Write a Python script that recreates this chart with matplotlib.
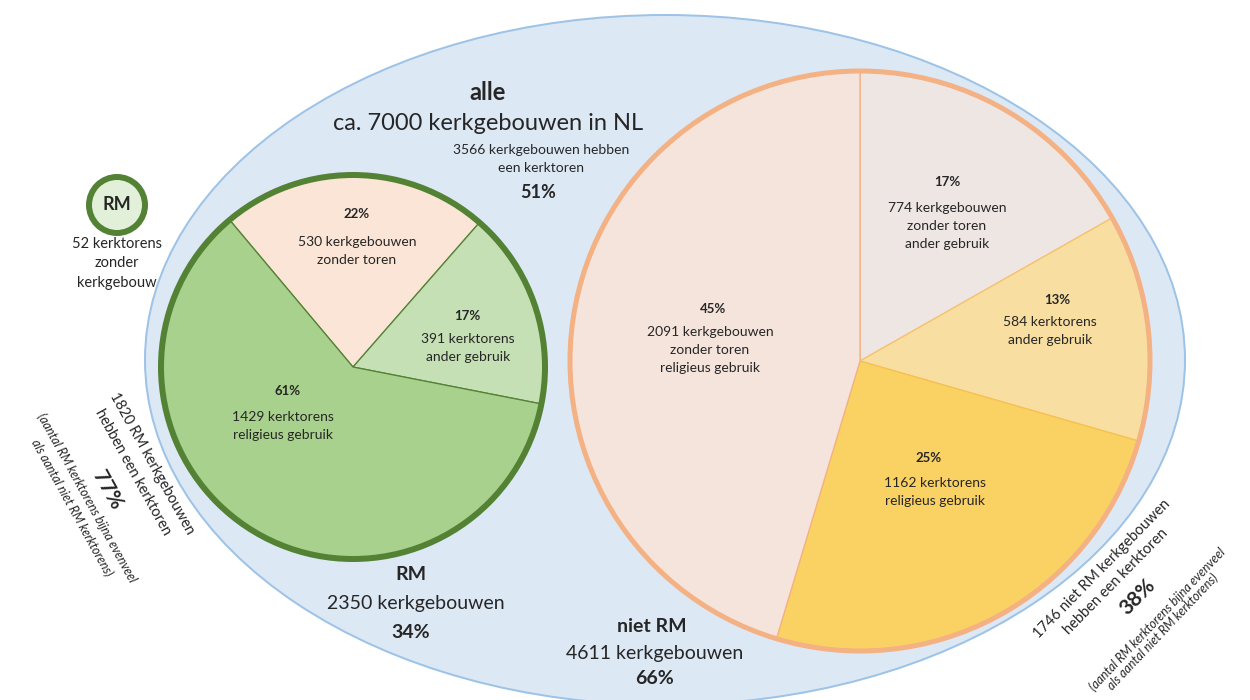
import matplotlib
matplotlib.use("Agg")
import matplotlib.pyplot as plt
from matplotlib.patches import Ellipse, Circle

plt.rcParams['font.family'] = ['Lato', 'DejaVu Sans']

# ---------------- data ----------------
rm_values = [530, 391, 1429]
rm_pcts = ["22%", "17%", "61%"]
rm_labels = ["530 kerkgebouwen\nzonder toren", "391 kerktorens\nander gebruik",
             "1429 kerktorens\nreligieus gebruik"]
rm_colors = ["#fbe5d6", "#c5e0b4", "#a9d18e"]

niet_values = [774, 584, 1162, 2091]
niet_pcts = ["17%", "13%", "25%", "45%"]
niet_labels = ["774 kerkgebouwen\nzonder toren\nander gebruik",
               "584 kerktorens\nander gebruik",
               "1162 kerktorens\nreligieus gebruik",
               "2091 kerkgebouwen\nzonder toren\nreligieus gebruik"]
niet_colors = ["#ede6e3", "#f8dfa1", "#fad264", "#f5e4dc"]
niet_edges = ["#f4b183", "#f7c46a", "#f7c04f", "#f4b183"]

total_title = "alle"
total_sub = "ca. 7000 kerkgebouwen in NL"
toren_all = "3566 kerkgebouwen hebben\neen kerktoren"
toren_all_pct = "51%"
rm_total = "2350 kerkgebouwen"
rm_total_pct = "34%"
niet_total = "4611 kerkgebouwen"
niet_total_pct = "66%"
rm_small = "52 kerktorens\nzonder\nkerkgebouw"
left_lines = ["1820 RM kerkgebouwen", "hebben een kerktoren"]
left_pct = "77%"
left_note = ["(aantal RM kerktorens bijna evenveel", "als aantal niet RM kerktorens)"]
right_lines = ["1746 niet RM kerkgebouwen", "hebben een kerktoren"]
right_pct = "38%"
right_note = ["(aantal RM kerktorens bijna evenveel", "als aantal niet RM kerktorens)"]

# ---------------- figure ----------------
W, H = 1250, 700
fig = plt.figure(figsize=(12.5, 7), dpi=100)
ax = fig.add_axes([0, 0, 1, 1])


def Y(py):
    return H - py


def PX(px):
    return px * 0.72


TXT = "#262626"

# big ellipse
ax.add_patch(Ellipse((665, Y(360)), 1040, 690, facecolor="#dde8f5",
                     edgecolor="#9dc3e6", lw=PX(2), zorder=0))

# RM pie
gcx, gcy, gr = 353, 367, 192
ax.pie(rm_values, colors=rm_colors, startangle=130, counterclock=False,
       center=(gcx, Y(gcy)), radius=gr, frame=True,
       wedgeprops=dict(edgecolor="#548235", linewidth=PX(1.3)))
ax.add_patch(Circle((gcx, Y(gcy)), gr, fill=False, edgecolor="#548235",
                    lw=PX(6), zorder=3))

# niet RM pie
ocx, ocy, orr = 860, 361, 290
wedges, _ = ax.pie(niet_values, colors=niet_colors, startangle=90, counterclock=False,
                   center=(ocx, Y(ocy)), radius=orr, frame=True,
                   wedgeprops=dict(linewidth=PX(1.3)))
for w, ec in zip(wedges, niet_edges):
    w.set_edgecolor(ec)
ax.add_patch(Circle((ocx, Y(ocy)), orr, fill=False, edgecolor="#f4b183",
                    lw=PX(5), zorder=3))

# small RM circle
ax.add_patch(Circle((117, Y(205)), 28, facecolor="#e2f0d9", edgecolor="#548235",
                    lw=PX(6), zorder=3))

ax.set_xlim(0, W)
ax.set_ylim(0, H)
ax.set_aspect('auto')
ax.axis('off')


def t(x, y, s, size, bold=False, ls=1.65, **kw):
    ax.text(x, Y(y), s, fontsize=size, fontweight='bold' if bold else 'normal',
            ha='center', va='center', color=TXT, zorder=5, linespacing=ls, **kw)


# headings
t(488, 93, total_title, 17, True)
t(488, 123, total_sub, 17)
t(541, 159, toren_all, 10, ls=1.55)
t(538, 192, toren_all_pct, 13, True)

t(411, 575, "RM", 14, True)
t(416, 603, rm_total, 14)
t(411, 632, rm_total_pct, 14, True)

t(652, 626, "niet RM", 14, True)
t(655, 653, niet_total, 14)
t(655, 678, niet_total_pct, 14, True)

# RM pie labels
rm_pct_pos = [(357, 214), (467, 316), (288, 391)]
rm_lab_pos = [(357, 251), (468, 348), (283, 426)]
for (p, l), (pp, lp) in zip(zip(rm_pcts, rm_labels), zip(rm_pct_pos, rm_lab_pos)):
    t(pp[0], pp[1], p, 9.5, True)
    t(lp[0], lp[1], l, 10)

# niet RM pie labels
niet_pct_pos = [(947, 182), (1057, 300), (929, 458), (713, 309)]
niet_lab_pos = [(947, 226), (1050, 331), (935, 492), (710, 350)]
for (p, l), (pp, lp) in zip(zip(niet_pcts, niet_labels), zip(niet_pct_pos, niet_lab_pos)):
    t(pp[0], pp[1], p, 9.5, True)
    t(lp[0], lp[1], l, 10)

# small RM circle texts
t(117, 205, "RM", 13, True)
t(117, 263, rm_small, 10.5, ls=1.5)

# rotated left block
rot_l = -61
t(152, 463, left_lines[0], 10.5, rotation=rot_l, rotation_mode='anchor')
t(133, 472, left_lines[1], 10.5, rotation=rot_l, rotation_mode='anchor')
t(107, 490, left_pct, 15, True, rotation=rot_l, rotation_mode='anchor')
t(87, 498, left_note[0], 9, style='italic', rotation=rot_l, rotation_mode='anchor')
t(72, 508, left_note[1], 9, style='italic', rotation=rot_l, rotation_mode='anchor')

# rotated right block
rot_r = 45.5
t(1102, 569, right_lines[0], 10.5, rotation=rot_r, rotation_mode='anchor')
t(1116, 582, right_lines[1], 10.5, rotation=rot_r, rotation_mode='anchor')
t(1138, 597, right_pct, 15, True, rotation=rot_r, rotation_mode='anchor')
t(1157, 619, right_note[0], 9, style='italic', rotation=46.5, rotation_mode='anchor')
t(1163, 632, right_note[1], 9, style='italic', rotation=46.5, rotation_mode='anchor')

fig.savefig("out.png", dpi=100, facecolor="white")
